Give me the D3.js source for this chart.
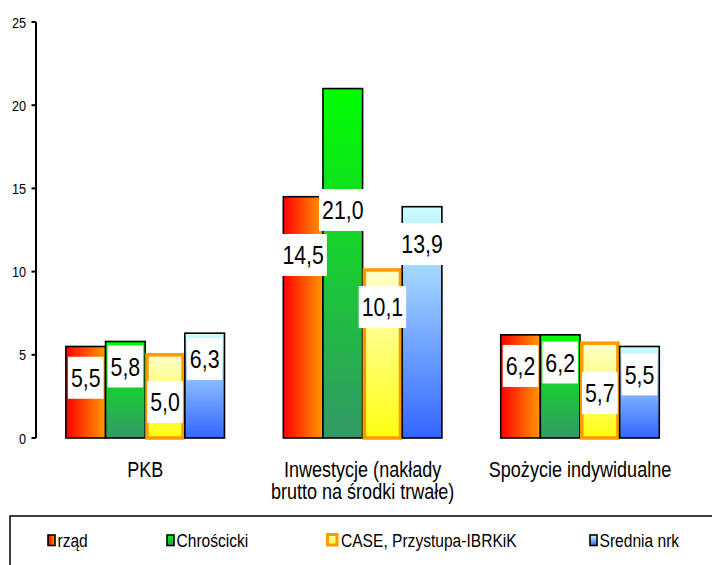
<!DOCTYPE html>
<html>
<head>
<meta charset="utf-8">
<script src="https://cdn.jsdelivr.net/npm/d3@7"></script>
<style>
  html, body { margin: 0; padding: 0; background: #fff; }
  svg { display: block; }
  text { font-family: "Liberation Sans", Arial, Helvetica, sans-serif; fill: #000; }
</style>
</head>
<body>
<svg id="chart" width="712" height="565"></svg>
<script>
// Forecast comparison: growth (%) by source
const categories = ["PKB", "Inwestycje (nakłady\nbrutto na środki trwałe)", "Spożycie indywidualne"];
const seriesNames = ["rząd", "Chrościcki", "CASE, Przystupa-IBRKiK", "Srednia nrk"];
const rzad       = [5.5, 14.5, 6.2];
const chroscicki = [5.8, 21.0, 6.2];
const caseIbrkik = [5.0, 10.1, 5.7];
const srednia    = [6.3, 13.9, 5.5];
const yTicks = [0, 5, 10, 15, 20, 25];

// Heights (in axis units) at which each value label box is centred
const labelAt = [
  [3.62, 4.30, 2.16, 4.75],
  [11.0, 13.7, 7.87, 11.66],
  [4.33, 4.54, 2.70, 3.82]
];

const seriesValues = [rzad, chroscicki, caseIbrkik, srednia];
const fmt = v => d3.format(".1f")(v).replace(".", ",");
const SX = 0.82; // narrow typeface

const svg = d3.select("#chart");
const defs = svg.append("defs");

// Fills for each series
const grads = [
  { id: "g-rzad", x2: "100%", y2: "0%", stops: ["#ff0000", "#ff9900"], stroke: "#000", sw: 1.6 },
  { id: "g-chro", x2: "0%", y2: "100%", stops: ["#00ff00", "#339966"], stroke: "#000", sw: 1.6 },
  { id: "g-case", x2: "0%", y2: "100%", stops: ["#ffffcc", "#ffff11"], stroke: "#ff9900", sw: 3.5 },
  { id: "g-sred", x2: "0%", y2: "100%", stops: ["#ccffff", "#3366ff"], stroke: "#000", sw: 1.6 }
];
grads.forEach(g => {
  const lg = defs.append("linearGradient").attr("id", g.id)
    .attr("x1", "0%").attr("y1", "0%").attr("x2", g.x2).attr("y2", g.y2);
  lg.append("stop").attr("offset", "0%").attr("stop-color", g.stops[0]);
  lg.append("stop").attr("offset", "100%").attr("stop-color", g.stops[1]);
});

function narrowText(parent, x, y, str, size, anchor) {
  return parent.append("text")
    .attr("transform", `translate(${x},${y}) scale(${SX},1)`)
    .attr("text-anchor", anchor || "middle")
    .style("font-size", size + "px")
    .text(str);
}

const y = d3.scaleLinear().domain([0, 25]).range([438, 22]);
const x0 = d3.scaleBand().domain(d3.range(categories.length)).range([36.5, 688.7]).padding(0);
const x1 = d3.scaleBand().domain(d3.range(seriesNames.length)).range([0, x0.bandwidth()])
  .paddingInner(0).paddingOuter(0.742);

// Y axis
const axisG = svg.append("g").attr("transform", "translate(36,0)");
axisG.append("line").attr("x1", 0).attr("x2", 0).attr("y1", y(25)).attr("y2", y(0))
  .attr("stroke", "#000").attr("stroke-width", 2);
yTicks.forEach(t => {
  axisG.append("line").attr("x1", -4.5).attr("x2", 0).attr("y1", y(t)).attr("y2", y(t))
    .attr("stroke", "#000").attr("stroke-width", 2);
  narrowText(axisG, -10, y(t) + 5.5, String(t), 15.5, "end");
});

// Bars
const groups = svg.append("g").selectAll("g").data(categories).join("g")
  .attr("transform", (d, i) => `translate(${x0(i)},0)`);

groups.each(function (cat, ci) {
  const g = d3.select(this);
  seriesValues.forEach((vals, si) => {
    const v = vals[ci];
    const st = grads[si];
    const inset = si === 2 ? st.sw / 2 : 0;
    g.append("rect")
      .attr("x", x1(si) + inset)
      .attr("y", y(v))
      .attr("width", x1.bandwidth() - 2 * inset)
      .attr("height", y(0) - y(v))
      .attr("fill", `url(#${st.id})`)
      .attr("stroke", st.stroke)
      .attr("stroke-width", st.sw);
  });
  // value labels
  seriesValues.forEach((vals, si) => {
    const v = vals[ci];
    const cx = x1(si) + x1.bandwidth() / 2;
    const cy = y(labelAt[ci][si]);
    const box = g.append("rect").attr("fill", "#fff");
    const t = narrowText(g, cx, cy + 9.3, fmt(v), 26, "middle");
    const w = t.node().getComputedTextLength() * SX + 6;
    box.attr("x", cx - w / 2).attr("y", cy - 21).attr("width", w).attr("height", 42);
  });
  // category label
  const lines = cat.split("\n");
  lines.forEach((ln, li) => {
    narrowText(g, x0.bandwidth() / 2, 476.5 + li * 22.5, ln, 22, "middle");
  });
});

// Legend
const legend = svg.append("g");
legend.append("rect").attr("x", 10).attr("y", 516).attr("width", 720).attr("height", 80)
  .attr("fill", "#fff").attr("stroke", "#000").attr("stroke-width", 1.5);
const legendX = [48, 167, 326, 590];
seriesNames.forEach((name, si) => {
  const st = grads[si];
  const lx = legendX[si];
  if (si === 2) {
    legend.append("rect").attr("x", lx + 1.5).attr("y", 534.5).attr("width", 9.5).attr("height", 10.5)
      .attr("fill", `url(#${st.id})`).attr("stroke", st.stroke).attr("stroke-width", 3);
  } else {
    legend.append("rect").attr("x", lx).attr("y", 535).attr("width", 7).attr("height", 10.5)
      .attr("fill", `url(#${st.id})`).attr("stroke", "#000").attr("stroke-width", 1.6);
  }
  narrowText(legend, lx + (si === 2 ? 15 : 9.5), 547, name, 19, "start");
});
</script>
</body>
</html>
